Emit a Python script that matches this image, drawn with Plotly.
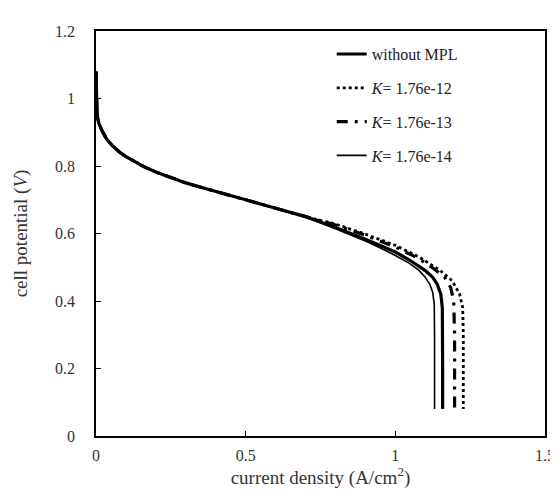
import plotly.graph_objects as go

# shared low-current part of the polarization curves
base_x = [0, 0.001, 0.003, 0.006, 0.01, 0.02, 0.035, 0.055, 0.08, 0.1, 0.13, 0.16,
          0.2, 0.25, 0.3, 0.35, 0.4, 0.5, 0.6, 0.7]
base_y = [1.08, 1.02, 0.97, 0.94, 0.925, 0.905, 0.88, 0.86, 0.84, 0.828, 0.812, 0.798,
          0.782, 0.765, 0.75, 0.737, 0.725, 0.70, 0.675, 0.65]

# high-current tails of each series
noMPL_x = [0.8, 0.9, 0.95, 1.0, 1.05, 1.1, 1.125, 1.14, 1.152, 1.157, 1.158, 1.158]
noMPL_y = [0.618, 0.583, 0.565, 0.545, 0.52, 0.49, 0.47, 0.45, 0.42, 0.38, 0.2, 0.08]

k12_x = [0.8, 0.9, 1.0, 1.08, 1.15, 1.19, 1.215, 1.225, 1.227, 1.227]
k12_y = [0.628, 0.598, 0.565, 0.53, 0.49, 0.46, 0.42, 0.38, 0.3, 0.08]

k13_x = [0.8, 0.9, 1.0, 1.08, 1.13, 1.165, 1.185, 1.195, 1.198, 1.198]
k13_y = [0.625, 0.595, 0.56, 0.525, 0.495, 0.47, 0.44, 0.40, 0.3, 0.08]

k14_x = [0.8, 0.85, 0.9, 0.95, 1.0, 1.05, 1.08, 1.1, 1.115, 1.125, 1.13, 1.131, 1.131]
k14_y = [0.615, 0.596, 0.578, 0.557, 0.535, 0.51, 0.49, 0.47, 0.45, 0.425, 0.39, 0.3, 0.08]

names = ["without MPL", "<i>K</i>= 1.76e-12", "<i>K</i>= 1.76e-13", "<i>K</i>= 1.76e-14"]

x_ticks = [0, 0.5, 1, 1.5]
y_ticks = [0, 0.2, 0.4, 0.6, 0.8, 1, 1.2]

fig = go.Figure()
series = [
    (noMPL_x, noMPL_y, dict(color="black", width=3.2, dash="solid")),
    (k12_x, k12_y, dict(color="black", width=2.8, dash="dot")),
    (k13_x, k13_y, dict(color="black", width=3.2, dash="11px,7px,3px,7px")),
    (k14_x, k14_y, dict(color="black", width=1.6, dash="solid")),
]
for i, (sx, sy, ln) in enumerate(series):
    fig.add_trace(go.Scatter(
        x=base_x + sx, y=base_y + sy, mode="lines", name=names[i],
        line=ln, legendgroup=str(i),
    ))

font_family = "Liberation Serif, DejaVu Serif, serif"
fig.update_layout(
    width=558, height=494,
    margin=dict(l=88, r=11, t=23, b=66),
    plot_bgcolor="white", paper_bgcolor="white",
    font=dict(family=font_family, size=16, color="#333333"),
    legend=dict(x=0.525, y=0.985, xanchor="left", yanchor="top",
                bgcolor="rgba(0,0,0,0)", font=dict(size=16, color="#222222"),
                tracegroupgap=10),
    xaxis=dict(range=[0, 1.5], tickvals=x_ticks, ticks="inside", ticklen=5,
               tickcolor="black", showline=True, linecolor="black", linewidth=1.5,
               mirror=True, showgrid=False, zeroline=False, ticklabelstandoff=4,
               title=dict(text="current density (A/cm<sup>2</sup>)", standoff=8)),
    yaxis=dict(range=[0, 1.2], tickvals=y_ticks, ticks="inside", ticklen=5,
               tickcolor="black", showline=True, linecolor="black", linewidth=1.5,
               mirror=True, showgrid=False, zeroline=False, ticklabelstandoff=16,
               title=dict(text="cell potential (<i>V</i>)", standoff=22)),
)

fig.write_html("out.html")
